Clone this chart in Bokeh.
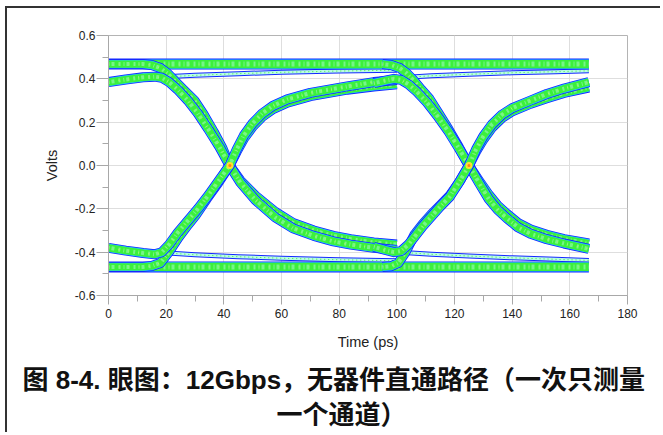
from bokeh.plotting import figure
from bokeh.models import Range1d, FixedTicker, Title
from bokeh.embed import file_html
from bokeh.resources import INLINE

# ---- axis ticks ----
x_ticks = [0, 20, 40, 60, 80, 100, 120, 140, 160, 180]
x_minor = [10, 30, 50, 70, 90, 110, 130, 150, 170]
y_ticks = [-0.6, -0.4, -0.2, 0.0, 0.2, 0.4, 0.6]
y_tick_labels = ["-0.6", "-0.4", "-0.2", "0.0", "0.2", "0.4", "0.6"]
y_minor = [-0.5, -0.3, -0.1, 0.1, 0.3, 0.5]

# ---- eye diagram traces (time ps, volts) ----
hi_steady_t = [0, 166.6]
hi_steady_v = [0.468, 0.468]
lo_steady_t = [0, 166.6]
lo_steady_v = [-0.468, -0.468]

hi_cont1_t = [18, 30, 45, 60, 80, 100]
hi_cont1_v = [0.408, 0.416, 0.424, 0.430, 0.436, 0.440]
hi_cont2_t = [101, 112, 125, 140, 155, 166.6]
hi_cont2_v = [0.405, 0.414, 0.421, 0.428, 0.433, 0.437]
lo_cont1_t = [18, 30, 45, 60, 80, 100]
lo_cont1_v = [-0.402, -0.412, -0.421, -0.428, -0.435, -0.440]
lo_cont2_t = [101, 112, 125, 140, 155, 166.6]
lo_cont2_v = [-0.400, -0.410, -0.418, -0.426, -0.433, -0.438]

fall1_s_t = [0, 12, 15, 18, 20.5, 23, 26, 29.8, 33, 36.5, 39.5, 42, 45.8, 51, 57.9, 64, 71.2, 78, 84, 92, 100]
fall1_s_v = [0.468, 0.468, 0.464, 0.45, 0.425, 0.39, 0.35, 0.30, 0.235, 0.155, 0.08, 0.0,
             -0.07, -0.14, -0.215, -0.265, -0.30, -0.325, -0.34, -0.355, -0.365]
fall1_r_t = [0, 6, 12, 16, 18.5, 21, 24, 27.5, 31, 34.5, 38.5, 42, 45.8, 51, 57.9, 64, 71.2, 78, 84, 92, 100]
fall1_r_v = [0.385, 0.397, 0.407, 0.41, 0.405, 0.385, 0.35, 0.30, 0.24, 0.17, 0.085, 0.0,
             -0.08, -0.16, -0.24, -0.29, -0.325, -0.35, -0.365, -0.38, -0.39]
rise1_s_t = [0, 12, 15, 18, 20.9, 24.4, 27.5, 30.2, 34, 38.3, 42, 44.5, 47, 50, 53.3, 57, 62, 70, 82.8, 92, 100]
rise1_s_v = [-0.468, -0.468, -0.464, -0.45, -0.40, -0.33, -0.275, -0.23, -0.155, -0.075, 0.0,
             0.065, 0.125, 0.18, 0.225, 0.26, 0.29, 0.32, 0.35, 0.365, 0.375]
rise1_r_t = [0, 6, 12, 16, 18.5, 21, 24, 27.5, 31, 34.5, 38.5, 42, 44.5, 47, 50, 53.3, 57, 62, 70, 82.8, 92, 100]
rise1_r_v = [-0.38, -0.393, -0.404, -0.41, -0.40, -0.365, -0.31, -0.255, -0.20, -0.14, -0.065, 0.0,
             0.075, 0.14, 0.195, 0.24, 0.275, 0.305, 0.335, 0.365, 0.385, 0.395]

fall2_s_t = [95, 98, 101, 103.5, 106, 108.5, 111.2, 114.5, 118, 121.5, 125, 128.5, 131.9, 135, 138.3, 142, 146.4, 152, 158, 166.6]
fall2_s_v = [0.468, 0.464, 0.45, 0.425, 0.39, 0.35, 0.31, 0.24, 0.165, 0.085, 0.0,
             -0.07, -0.135, -0.185, -0.225, -0.265, -0.295, -0.32, -0.34, -0.36]
fall2_r_t = [92, 96, 99, 101.5, 104, 107, 110.5, 114, 118, 121.5, 125, 128.5, 131.9, 135, 138.3, 142, 146.4, 152, 158, 166.6]
fall2_r_v = [0.38, 0.392, 0.40, 0.395, 0.375, 0.34, 0.29, 0.23, 0.155, 0.08, 0.0,
             -0.08, -0.155, -0.205, -0.245, -0.285, -0.315, -0.34, -0.36, -0.385]
rise2_s_t = [95, 98, 100.5, 103, 106.1, 109, 112, 115, 118.3, 121.7, 125, 127.5, 130, 133, 136.5, 140, 146.4, 152, 158, 166.6]
rise2_s_v = [-0.468, -0.465, -0.45, -0.40, -0.32, -0.27, -0.225, -0.185, -0.14, -0.075, 0.0,
             0.065, 0.12, 0.175, 0.22, 0.25, 0.285, 0.31, 0.335, 0.36]
rise2_r_t = [92, 96, 99, 101.5, 104, 106.1, 109, 112, 115, 118.3, 121.7, 125, 127.5, 130, 133, 136.5, 140, 146.4, 152, 158, 166.6]
rise2_r_v = [-0.375, -0.39, -0.40, -0.395, -0.365, -0.33, -0.28, -0.235, -0.19, -0.145, -0.075, 0.0,
             0.075, 0.135, 0.19, 0.235, 0.265, 0.30, 0.33, 0.355, 0.385]

cross_t = [42.1, 125.0]
cross_v = [0.0, 0.0]

# ---- figure ----
p = figure(width=655, height=426, x_range=Range1d(0, 180), y_range=Range1d(-0.6, 0.6),
           output_backend="svg", toolbar_location=None,
           min_border_left=101, min_border_right=35, min_border_top=27, min_border_bottom=139)
p.styles = {"border-left": "2px solid #333333", "border-top": "2px solid #333333",
            "margin-left": "5px", "margin-top": "6px"}
p.background_fill_color = "white"
p.border_fill_color = "white"
p.outline_line_color = "#b4b4b4"

for ax in (p.xaxis, p.yaxis):
    ax.axis_line_color = "#a8a8a8"
    ax.major_tick_line_color = "#a8a8a8"
    ax.minor_tick_line_color = "#a8a8a8"
    ax.major_tick_in = 0
    ax.minor_tick_in = 0
    ax.major_label_text_font = "Liberation Sans"
    ax.major_label_text_font_size = "12px"
    ax.major_label_text_color = "#222222"
    ax.axis_label_text_font = "Liberation Sans"
    ax.axis_label_text_font_size = "14.5px"
    ax.axis_label_text_font_style = "normal"
    ax.axis_label_text_color = "#222222"

p.xaxis.ticker = FixedTicker(ticks=x_ticks, minor_ticks=x_minor)
p.yaxis.ticker = FixedTicker(ticks=y_ticks, minor_ticks=y_minor)
p.yaxis.major_label_overrides = {t: s for t, s in zip(y_ticks, y_tick_labels)}
p.xaxis.major_tick_out = 9
p.xaxis.minor_tick_out = 6
p.yaxis.major_tick_out = 12
p.yaxis.minor_tick_out = 6
p.xaxis.major_label_standoff = 4
p.yaxis.major_label_standoff = 1
p.xaxis.axis_label = "Time (ps)"
p.yaxis.axis_label = "Volts"
p.xaxis.axis_label_standoff = 13
p.yaxis.axis_label_standoff = 12

p.xgrid.grid_line_color = "#dedede"
p.ygrid.grid_line_color = "#dedede"

BLUE = "#1428ff"
CYAN = "#20c8ff"
GREEN = "#3cf03c"
PALE = "#bafbe6"
YEL = "#e4ff30"


def band(t, v, w):
    kw = dict(line_join="round", line_cap="butt")
    p.line(t, v, line_color=BLUE, line_width=w, **kw)
    p.line(t, v, line_color=CYAN, line_width=w - 1.6, **kw)
    p.line(t, v, line_color=GREEN, line_width=w - 2.8, **kw)
    p.line(t, v, line_color=PALE, line_width=max(w - 6, 1), line_alpha=0.45, line_dash="1 2 3 4 2 3", **kw)
    p.line(t, v, line_color=YEL, line_width=1.0, line_alpha=0.6, line_dash="1 9", **kw)


def thin(t, v, w):
    kw = dict(line_join="round", line_cap="butt")
    p.line(t, v, line_color=BLUE, line_width=w, **kw)
    p.line(t, v, line_color=PALE, line_width=w - 2, **kw)
    p.line(t, v, line_color=GREEN, line_width=1, line_dash="1 3", **kw)


thin(hi_cont1_t, hi_cont1_v, 5)
thin(hi_cont2_t, hi_cont2_v, 5)
thin(lo_cont1_t, lo_cont1_v, 5)
thin(lo_cont2_t, lo_cont2_v, 5)
band(hi_steady_t, hi_steady_v, 11)
band(lo_steady_t, lo_steady_v, 11)
for tt, vv in [(fall1_s_t, fall1_s_v), (fall1_r_t, fall1_r_v),
               (rise1_s_t, rise1_s_v), (rise1_r_t, rise1_r_v),
               (fall2_s_t, fall2_s_v), (fall2_r_t, fall2_r_v),
               (rise2_s_t, rise2_s_v), (rise2_r_t, rise2_r_v)]:
    band(tt, vv, 10)

p.scatter(cross_t, cross_v, size=7, fill_color="#ffe030", line_color=None)
p.scatter(cross_t, cross_v, size=3, fill_color="#ff8020", line_color=None)

cap_font = "Liberation Sans, Noto Sans CJK SC"
spacer = Title(text=" ", text_font_size="2px", standoff=4)
t1 = Title(text="图 8-4. 眼图：12Gbps，无器件直通路径（一次只测量", align="left", offset=-86,
           text_font=cap_font, text_font_size="26px", text_font_style="bold",
           text_color="#111111", standoff=4)
t2 = Title(text="一个通道）", align="left", offset=168,
           text_font=cap_font, text_font_size="26px", text_font_style="bold",
           text_color="#111111", standoff=3)
p.add_layout(spacer, "below")
p.add_layout(t1, "below")
p.add_layout(t2, "below")

open("out.html", "w").write(file_html(p, INLINE))
